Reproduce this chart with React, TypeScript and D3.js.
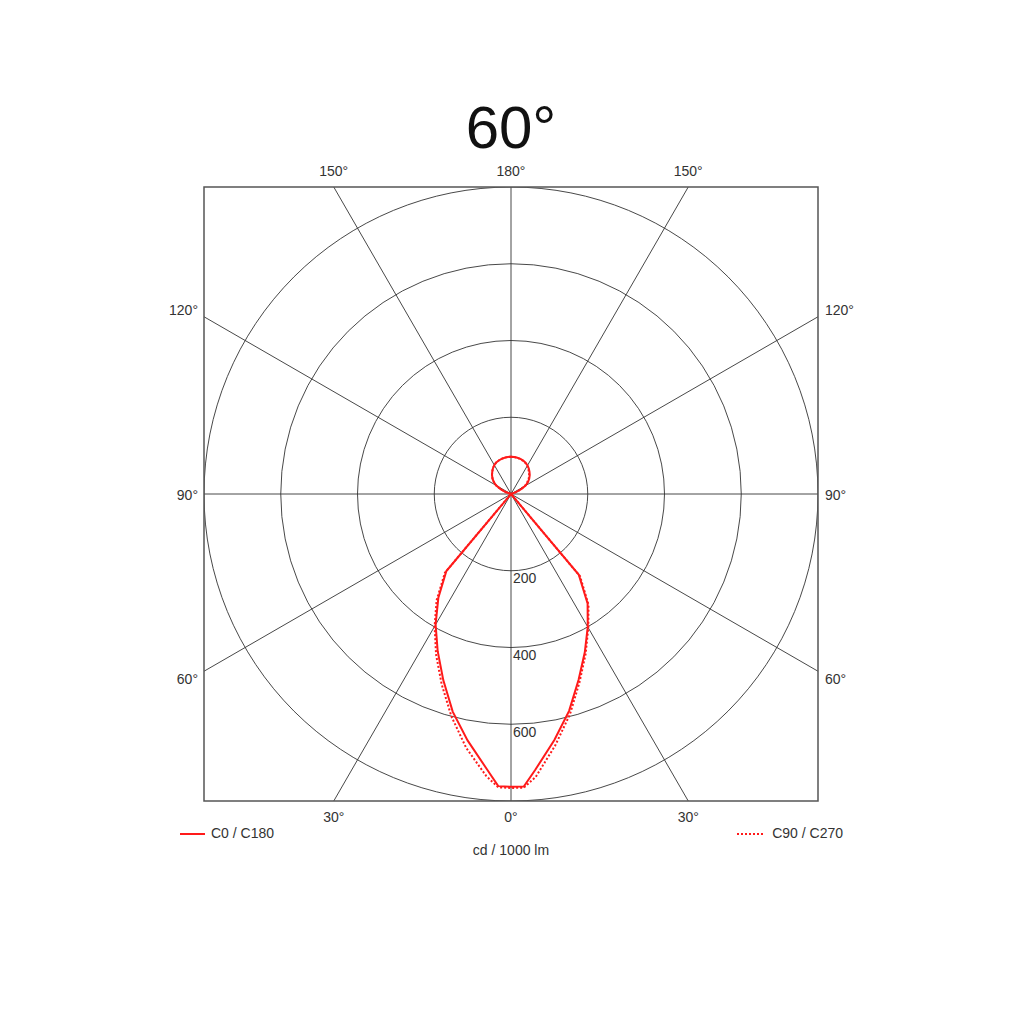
import { useEffect, useRef } from 'react';
import * as d3 from 'd3';

// photometric polar diagram, cd / 1000 lm
const title = '60°';
const gammas = [0, 2.5, 5, 10, 15, 20, 25, 30, 35, 40, 45, 50, 55, 60, 65, 70, 75, 80, 85, 90,
  95, 100, 105, 110, 115, 120, 125, 130, 135, 140, 145, 150, 155, 160, 165, 170, 175, 180];

const c0 = [763, 763, 722, 651, 585, 515, 455, 400, 348, 275, 0, 0, 0, 0, 0, 0, 0, 0, 0, 0,
  0, 0, 0, 14, 29, 44, 54, 62, 69, 75, 81, 86, 90, 93, 95, 96, 97, 97];
const c180 = [763, 762, 720, 652, 587, 516, 452, 393, 330, 262, 0, 0, 0, 0, 0, 0, 0, 0, 0, 0,
  0, 0, 0, 15, 30, 45, 55, 63, 70, 76, 82, 87, 91, 93, 95, 96, 97, 97];
const c90 = [766, 766, 740, 665, 594, 522, 460, 403, 352, 280, 0, 0, 0, 0, 0, 0, 0, 0, 0, 0,
  0, 0, 0, 12, 27, 41, 51, 60, 67, 73, 79, 85, 89, 92, 94, 96, 97, 97];
const c270 = [766, 765, 738, 672, 600, 528, 462, 398, 338, 268, 0, 0, 0, 0, 0, 0, 0, 0, 0, 0,
  0, 0, 0, 15, 30, 45, 55, 63, 70, 76, 82, 87, 91, 93, 95, 96, 97, 97];

const rings = [200, 400, 600, 800];
const ringLabels = [200, 400, 600];
const spokes = [0, 30, 60, 90, 120, 150, 180, 210, 240, 270, 300, 330];
const topLabels = [{ g: -150, t: '150°' }, { g: 180, t: '180°' }, { g: 150, t: '150°' }];
const bottomLabels = [{ g: -30, t: '30°' }, { g: 0, t: '0°' }, { g: 30, t: '30°' }];
const sideLabels = [{ g: 120, t: '120°' }, { g: 90, t: '90°' }, { g: 60, t: '60°' }];
const legend = ['C0 / C180', 'C90 / C270'];
const unitLabel = 'cd / 1000 lm';

const font = '"Liberation Sans", Arial, sans-serif';
const red = '#ff1a1a';

export default function App() {
  const svgRef = useRef<SVGSVGElement>(null);
  const width = 1024;
  const height = 1024;

  useEffect(() => {
    if (!svgRef.current) return;
    const svg = d3.select(svgRef.current);
    svg.selectAll('*').remove();

    const cx = 511;
    const cy = 494;
    const half = 307;
    const r = d3.scaleLinear().domain([0, 800]).range([0, half]);
    const rad = (deg: number) => (deg * Math.PI) / 180;

    svg.append('defs').append('clipPath').attr('id', 'box')
      .append('rect')
      .attr('x', cx - half).attr('y', cy - half)
      .attr('width', half * 2).attr('height', half * 2);

    const grid = svg.append('g').attr('clip-path', 'url(#box)');

    grid.selectAll('circle')
      .data(rings)
      .enter()
      .append('circle')
      .attr('cx', cx).attr('cy', cy)
      .attr('r', d => r(d))
      .attr('fill', 'none')
      .attr('stroke', '#333')
      .attr('stroke-width', 0.9);

    grid.selectAll('line')
      .data(spokes)
      .enter()
      .append('line')
      .attr('x1', cx).attr('y1', cy)
      .attr('x2', d => cx + 600 * Math.sin(rad(d)))
      .attr('y2', d => cy + 600 * Math.cos(rad(d)))
      .attr('stroke', '#333')
      .attr('stroke-width', 0.9);

    // curves: left half (C180 / C270) from 180 down to 0, then right half back up
    const line = d3.lineRadial<{ a: number; v: number }>()
      .angle(d => d.a)
      .radius(d => r(d.v));

    const halfPlane = (left: number[], right: number[]) => {
      const pts: { a: number; v: number }[] = [];
      for (let i = gammas.length - 1; i >= 0; i--) pts.push({ a: Math.PI + rad(gammas[i]), v: left[i] });
      for (let i = 0; i < gammas.length; i++) pts.push({ a: Math.PI - rad(gammas[i]), v: right[i] });
      return pts;
    };

    const curves = svg.append('g')
      .attr('transform', `translate(${cx},${cy})`);

    curves.append('path')
      .attr('d', line(halfPlane(c270, c90)))
      .attr('fill', 'none')
      .attr('stroke', red)
      .attr('stroke-width', 2)
      .attr('stroke-dasharray', '2,2');

    curves.append('path')
      .attr('d', line(halfPlane(c180, c0)))
      .attr('fill', 'none')
      .attr('stroke', red)
      .attr('stroke-width', 2);

    svg.append('rect')
      .attr('x', cx - half).attr('y', cy - half)
      .attr('width', half * 2).attr('height', half * 2)
      .attr('fill', 'none')
      .attr('stroke', '#555')
      .attr('stroke-width', 1.5);

    const labels = svg.append('g')
      .attr('font-family', font)
      .attr('font-size', 14)
      .attr('fill', '#333');

    labels.selectAll('.ring')
      .data(ringLabels)
      .enter()
      .append('text')
      .attr('x', cx + 2)
      .attr('y', d => cy + r(d) + 9)
      .attr('dominant-baseline', 'middle')
      .text(d => d);

    labels.selectAll('.top')
      .data(topLabels)
      .enter()
      .append('text')
      .attr('x', d => cx + half * Math.tan(rad(180 - Math.abs(d.g))) * Math.sign(d.g))
      .attr('y', cy - half - 15)
      .attr('text-anchor', 'middle')
      .attr('dominant-baseline', 'middle')
      .text(d => d.t);

    labels.selectAll('.bottom')
      .data(bottomLabels)
      .enter()
      .append('text')
      .attr('x', d => cx + half * Math.tan(rad(d.g)))
      .attr('y', cy + half + 17)
      .attr('text-anchor', 'middle')
      .attr('dominant-baseline', 'middle')
      .text(d => d.t);

    [-1, 1].forEach(side => {
      labels.selectAll(`.side${side}`)
        .data(sideLabels)
        .enter()
        .append('text')
        .attr('x', side < 0 ? cx - half - 6 : cx + half + 7)
        .attr('y', d => cy + 2 + 320 * Math.cos(rad(d.g)) / Math.sin(rad(d.g)))
        .attr('text-anchor', side < 0 ? 'end' : 'start')
        .attr('dominant-baseline', 'middle')
        .text(d => d.t);
    });

    // legend
    svg.append('line')
      .attr('x1', 180).attr('x2', 205).attr('y1', 834).attr('y2', 834)
      .attr('stroke', red).attr('stroke-width', 2);
    labels.append('text')
      .attr('x', 211).attr('y', 834)
      .attr('dominant-baseline', 'middle')
      .text(legend[0]);

    svg.append('line')
      .attr('x1', 737).attr('x2', 765).attr('y1', 834).attr('y2', 834)
      .attr('stroke', red).attr('stroke-width', 2)
      .attr('stroke-dasharray', '2,2');
    labels.append('text')
      .attr('x', 843).attr('y', 834)
      .attr('text-anchor', 'end')
      .attr('dominant-baseline', 'middle')
      .text(legend[1]);

    labels.append('text')
      .attr('x', cx).attr('y', 851)
      .attr('text-anchor', 'middle')
      .attr('dominant-baseline', 'middle')
      .text(unitLabel);

    svg.append('text')
      .attr('x', cx).attr('y', 148)
      .attr('text-anchor', 'middle')
      .attr('font-family', font)
      .attr('font-size', 60)
      .attr('fill', '#111')
      .text(title);
  }, []);

  return (
    <div style={{ position: 'absolute', left: 0, top: 0 }}>
      <svg ref={svgRef} width={width} height={height} style={{ display: 'block', background: '#fff' }}></svg>
    </div>
  );
}
